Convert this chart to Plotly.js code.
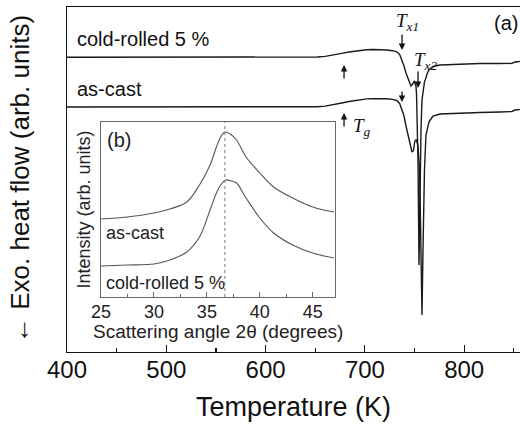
<!DOCTYPE html>
<html>
<head>
<meta charset="utf-8">
<script src="https://cdn.plot.ly/plotly-3.0.1.min.js"></script>
<style>html,body{margin:0;padding:0;background:#fff;}#plot{width:520px;height:427px;}</style>
</head>
<body>
<div id="plot"></div>
<script>
// ---- DSC curves (main panel a) ----
const tempK = [400,450,500,550,600,640,652,660,666,672,678,684,690,696,702,708,715,722,728,732,735,736,738.4,739.4,741.4,742.4,744.4,745.4,746.4,747.4,748.4,749,750,750.4,751.4,752,753,753.5,754.5,755,756,756.5,757.5,758.5,759.5,760,761.5,762.5,764.5,766.5,768.5,775.6,795.7,815.9,836,846,848,851,852,856];
const coldRolledDSC = [294.7,294.8,294.6,294.7,294.5,294.7,295,295.6,296.5,297.7,298.9,300,301,301.8,302.3,302.5,302.4,302,301.3,300.2,297.5,295,289,286,279,276,270,268,266,267,269,270,271,269,266,258,222,190,87,130,192,222,252,262,268,270,274,278,282,284,285.5,287,288,288.5,288.5,288.5,288.6,290,290.2,290.5];
const asCastDSC = [245,245.1,244.9,245,244.8,245,245.3,245.9,246.8,248,249.3,250.5,251.6,252.5,253.1,253.4,253.5,253.3,252.6,251.5,248.5,246,239,236,226,222,212,207,203,200,201,202,209,211,212,212,208,206,190,182,130,102,37,102,160,182,217,222,230,233,236,238,239,239.5,240,240.3,240.5,242,242,242.5];

// ---- XRD inset (panel b) ----
const angleAsCast = [25,27.5,30,31.5,33.1,34.3,35.3,35.9,36.3,36.7,37.2,37.8,38.7,40.0,41.3,43.1,45.0,47.0];
const intensityAsCast = [78,80,84,88,95,112,132,150,160,165,163,157,140,124,110,99,90,85];
const angleCold = [25,27.5,30,31.5,33.1,34.3,35.3,35.9,36.3,36.8,37.3,37.8,38.7,40.0,41.3,43.1,45.0,47.0];
const intensityCold = [31,32,33,37,45,60,87,104,112,117,116,114,99,79,64,52,44,39];
const peakAngle = 36.7;

// ---- annotation positions (values) ----
const TgTemp = 679, Tx1Temp = 737.4, Tx2Temp = 753.5;

const font = 'Liberation Sans, Arial, sans-serif';
const serif = 'Liberation Serif, Times New Roman, serif';

const traces = [
  {x: tempK, y: coldRolledDSC, type: 'scatter', mode: 'lines', line: {color: '#1a1a1a', width: 1.4}, xaxis: 'x', yaxis: 'y', hoverinfo: 'skip'},
  {x: tempK, y: asCastDSC, type: 'scatter', mode: 'lines', line: {color: '#1a1a1a', width: 1.4}, xaxis: 'x', yaxis: 'y', hoverinfo: 'skip'},
  {x: angleAsCast, y: intensityAsCast, type: 'scatter', mode: 'lines', line: {color: '#555', width: 1.1, shape: 'spline'}, xaxis: 'x2', yaxis: 'y2', hoverinfo: 'skip'},
  {x: angleCold, y: intensityCold, type: 'scatter', mode: 'lines', line: {color: '#555', width: 1.1, shape: 'spline'}, xaxis: 'x2', yaxis: 'y2', hoverinfo: 'skip'}
];

const arrow = (x, y, ay) => ({x: x, y: y, xref: 'x', yref: 'y', text: '', showarrow: true, ax: 0, ay: ay,
  arrowhead: 2, arrowsize: 1, arrowwidth: 1.3, arrowcolor: '#111'});

const layout = {
  width: 520, height: 427,
  margin: {l: 67, r: 0, t: 7, b: 75},
  paper_bgcolor: '#fff', plot_bgcolor: 'rgba(0,0,0,0)',
  showlegend: false,
  font: {family: font, color: '#111'},
  xaxis: {
    domain: [0, 1], range: [400, 856.2], anchor: 'y',
    showline: true, linecolor: '#111', linewidth: 1.3, mirror: true,
    ticks: 'inside', ticklen: 7, tickwidth: 1.2, tickcolor: '#111', dtick: 100, tick0: 400,
    minor: {dtick: 50, ticks: 'inside', ticklen: 4, tickcolor: '#111'},
    showgrid: false, zeroline: false, ticklabelstandoff: -4,
    tickfont: {size: 24, color: '#111'},
    title: {text: 'Temperature (K)', font: {size: 27, color: '#111'}, standoff: 15}
  },
  yaxis: {
    domain: [0, 1], range: [0, 345], anchor: 'x',
    showline: true, linecolor: '#111', linewidth: 1.3, mirror: false,
    showticklabels: false, ticks: '', showgrid: false, zeroline: false
  },
  xaxis2: {
    domain: [0.0751, 0.5916], range: [25, 47.1], anchor: 'y2',
    showline: true, linecolor: '#666', linewidth: 1, mirror: true,
    ticks: 'inside', ticklen: 5, tickcolor: '#666', dtick: 5, tick0: 25,
    minor: {dtick: 2.5, ticks: 'inside', ticklen: 3, tickcolor: '#666'},
    showgrid: false, zeroline: false, ticklabelstandoff: -2,
    tickfont: {size: 18, color: '#222'}
  },
  yaxis2: {
    domain: [0.1594, 0.6667], range: [0, 175], anchor: 'x2',
    showline: true, linecolor: '#666', linewidth: 1, mirror: true,
    showticklabels: false, ticks: '', showgrid: false, zeroline: false,
    title: {text: 'Intensity (arb. units)', font: {size: 18, color: '#222'}, standoff: 4}
  },
  shapes: [
    {type: 'line', xref: 'x2', yref: 'y2 domain', x0: peakAngle, x1: peakAngle, y0: 0, y1: 1,
     line: {color: '#777', width: 1, dash: 'dot'}}
  ],
  annotations: [
    {xref: 'paper', yref: 'paper', x: -0.104, y: 0.02, text: '\u2190 Exo. heat flow (arb. units)', textangle: -90, showarrow: false, xanchor: 'center', yanchor: 'bottom', font: {size: 26, color: '#111'}},
    {xref: 'x2 domain', yref: 'y2 domain', x: 0.5, y: -0.196, text: 'Scattering angle 2\u03b8 (degrees)', showarrow: false, xanchor: 'center', yanchor: 'middle', font: {size: 19, color: '#222'}},
    {xref: 'paper', yref: 'y', x: 0.018, y: 300, text: 'cold-rolled 5 %', showarrow: false, xanchor: 'left', yanchor: 'bottom', font: {size: 20, color: '#111'}},
    {xref: 'paper', yref: 'y', x: 0.018, y: 250, text: 'as-cast', showarrow: false, xanchor: 'left', yanchor: 'bottom', font: {size: 20, color: '#111'}},
    {xref: 'paper', yref: 'paper', x: 1.0, y: 0.955, text: '(a)', showarrow: false, xanchor: 'right', yanchor: 'middle', font: {size: 20, color: '#111'}},
    {xref: 'x2', yref: 'y2', x: 25.4, y: 157, text: '(b)', showarrow: false, xanchor: 'left', yanchor: 'middle', font: {size: 20, color: '#222'}},
    {xref: 'x2', yref: 'y2', x: 25.3, y: 64, text: 'as-cast', showarrow: false, xanchor: 'left', yanchor: 'middle', font: {size: 18, color: '#222'}},
    {xref: 'x2', yref: 'y2', x: 25.3, y: 14, text: 'cold-rolled 5 %', showarrow: false, xanchor: 'left', yanchor: 'middle', font: {size: 18, color: '#222'}},
    {xref: 'x', yref: 'y', x: 743.4, y: 330, text: '<i>T</i><sub><i>x1</i></sub>', showarrow: false, xanchor: 'center', yanchor: 'middle', font: {family: serif, size: 19, color: '#111'}},
    {xref: 'x', yref: 'y', x: 761, y: 291, text: '<i>T</i><sub><i>x2</i></sub>', showarrow: false, xanchor: 'center', yanchor: 'middle', font: {family: serif, size: 19, color: '#111'}},
    {xref: 'x', yref: 'y', x: 697, y: 225, text: '<i>T</i><sub><i>g</i></sub>', showarrow: false, xanchor: 'center', yanchor: 'middle', font: {family: serif, size: 19, color: '#111'}},
    arrow(TgTemp, 287, 15),
    arrow(TgTemp, 239, 15),
    arrow(Tx1Temp, 302, -17),
    arrow(Tx1Temp, 250, -12),
    arrow(Tx2Temp, 264, -18)
  ]
};

Plotly.newPlot('plot', traces, layout, {staticPlot: true, displayModeBar: false});
</script>
</body>
</html>
